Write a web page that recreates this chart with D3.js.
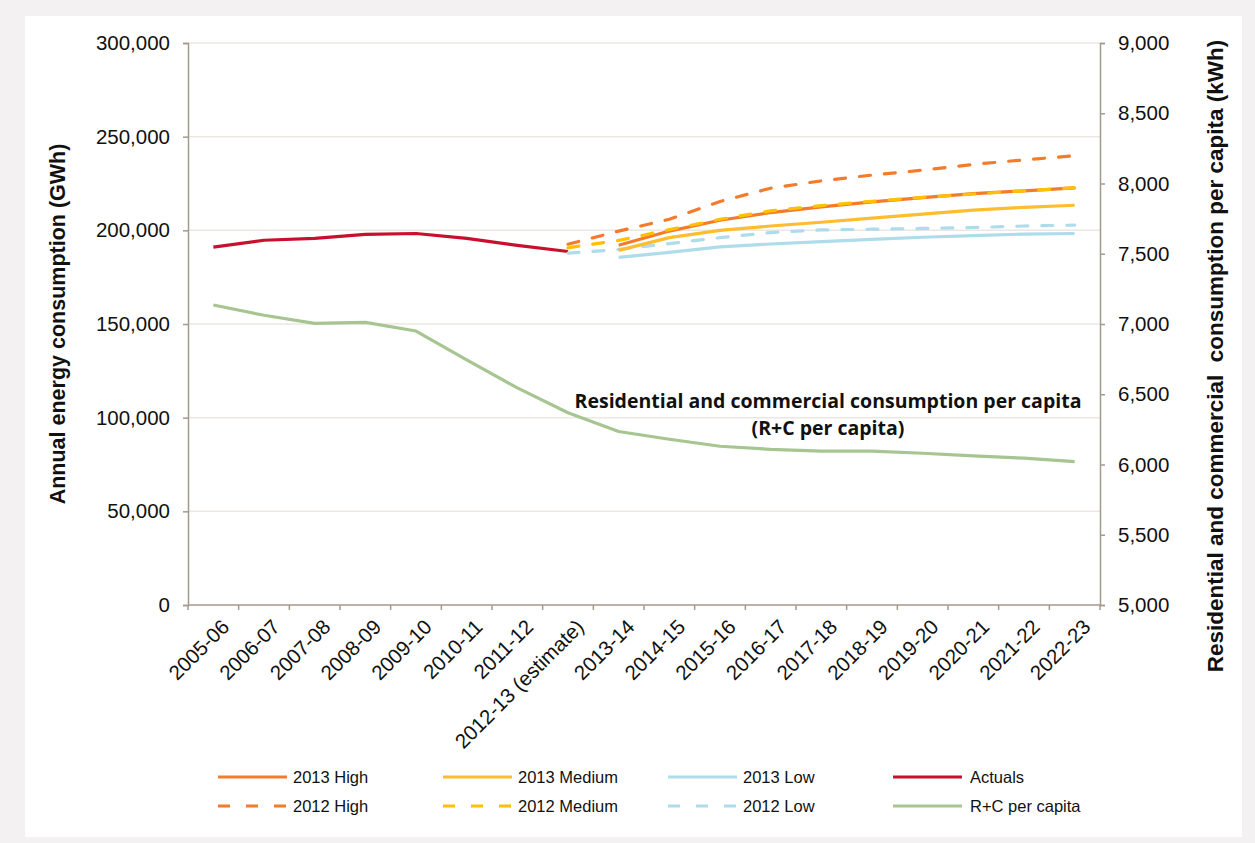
<!DOCTYPE html>
<html>
<head>
<meta charset="utf-8">
<script src="https://cdn.jsdelivr.net/npm/d3@7"></script>
<style>
  html, body { margin: 0; padding: 0; background: #f3f1f1; }
  svg { display: block; }
</style>
</head>
<body>
<svg id="chart" width="1255" height="843"></svg>
<script>
// Financial years on the category axis
const categories = ["2005-06","2006-07","2007-08","2008-09","2009-10","2010-11","2011-12",
  "2012-13 (estimate)","2013-14","2014-15","2015-16","2016-17","2017-18","2018-19",
  "2019-20","2020-21","2021-22","2022-23"];

// Annual energy consumption (GWh)
const actuals = [191000, 194700, 195700, 197800, 198300, 195700, 192000, 188700];
const high2013 = [null,null,null,null,null,null,null,null,
  192000, 199600, 205400, 209500, 212500, 215200, 217500, 219600, 221100, 222700];
const medium2013 = [null,null,null,null,null,null,null,null,
  189300, 196100, 200000, 202300, 204300, 206500, 208700, 210800, 212300, 213400];
const low2013 = [null,null,null,null,null,null,null,null,
  185600, 188200, 191200, 192700, 194000, 195200, 196300, 197200, 198000, 198300];
const high2012 = [null,null,null,null,null,null,null,
  192600, 199600, 205900, 215400, 222500, 226400, 229500, 232100, 235200, 237600, 239800];
const medium2012 = [null,null,null,null,null,null,null,
  190700, 194600, 200400, 205900, 210400, 213200, 215500, 217600, 219400, 221100, 222700];
const low2012 = [null,null,null,null,null,null,null,
  187800, 189800, 192900, 196100, 198800, 200200, 200600, 201000, 201500, 202300, 202800];

// Residential and commercial consumption per capita (kWh)
const perCapita = [7135, 7062, 7005, 7012, 6950, 6745, 6545, 6368, 6235, 6180, 6130,
  6108, 6095, 6095, 6080, 6062, 6045, 6020];

const leftTicks = [0, 50000, 100000, 150000, 200000, 250000, 300000];
const rightTicks = [5000, 5500, 6000, 6500, 7000, 7500, 8000, 8500, 9000];

const series = [
  { name: "2013 High", values: high2013, color: "#f47b2a", dashed: false, axis: "left" },
  { name: "2013 Medium", values: medium2013, color: "#fdbd2e", dashed: false, axis: "left" },
  { name: "2013 Low", values: low2013, color: "#aedceb", dashed: false, axis: "left" },
  { name: "Actuals", values: actuals, color: "#c8102e", dashed: false, axis: "left" },
  { name: "2012 High", values: high2012, color: "#f47b2a", dashed: true, axis: "left" },
  { name: "2012 Medium", values: medium2012, color: "#ffc000", dashed: true, axis: "left" },
  { name: "2012 Low", values: low2012, color: "#aedceb", dashed: true, axis: "left" },
  { name: "R+C per capita", values: perCapita, color: "#a6c590", dashed: false, axis: "right" }
];

const svg = d3.select("#chart");

// white panel
svg.append("rect").attr("x", 25).attr("y", 16).attr("width", 1217).attr("height", 821)
  .attr("fill", "#ffffff");

const m = { left: 188, right: 1100, top: 43, bottom: 605 };
const axisColor = "#a49a8c";
const font = "'Liberation Sans', Arial, sans-serif";
const narrow = "'Liberation Sans Narrow', 'Liberation Sans', Arial, sans-serif";

const x = d3.scaleBand().domain(categories).range([m.left, m.right]).padding(0);
const yL = d3.scaleLinear().domain([0, 300000]).range([m.bottom, m.top]);
const yR = d3.scaleLinear().domain([5000, 9000]).range([m.bottom, m.top]);

// gridlines
svg.append("g").selectAll("line").data(leftTicks.filter(d => d > 0)).join("line")
  .attr("x1", m.left).attr("x2", m.right)
  .attr("y1", d => yL(d)).attr("y2", d => yL(d))
  .attr("stroke", "#ebe7e3").attr("stroke-width", 1.5);

const fmt = d3.format(",");

// left axis
const gL = svg.append("g").attr("transform", `translate(${m.left},0)`)
  .call(d3.axisLeft(yL).tickValues(leftTicks).tickFormat(fmt).tickSize(5).tickPadding(13));
gL.select(".domain").attr("stroke", axisColor).attr("stroke-width", 1.5);
gL.selectAll(".tick line").attr("stroke", axisColor).attr("stroke-width", 1.5);
gL.selectAll(".tick text").attr("font-family", font).attr("font-size", 20.5).attr("fill", "#111");

// right axis
const gR = svg.append("g").attr("transform", `translate(${m.right},0)`)
  .call(d3.axisRight(yR).tickValues(rightTicks).tickFormat(fmt).tickSize(5).tickPadding(13));
gR.select(".domain").attr("stroke", axisColor).attr("stroke-width", 1.5);
gR.selectAll(".tick line").attr("stroke", axisColor).attr("stroke-width", 1.5);
gR.selectAll(".tick text").attr("font-family", font).attr("font-size", 20.5).attr("fill", "#111");

// category axis: ticks on band boundaries
const gX = svg.append("g").attr("transform", `translate(0,${m.bottom})`);
gX.append("line").attr("x1", m.left).attr("x2", m.right).attr("y1", 0).attr("y2", 0)
  .attr("stroke", axisColor).attr("stroke-width", 1.5);
const boundaries = categories.map(c => x(c)).concat([m.right]);
gX.selectAll("line.tk").data(boundaries).join("line").attr("class", "tk")
  .attr("x1", d => d).attr("x2", d => d).attr("y1", 0).attr("y2", 5)
  .attr("stroke", axisColor).attr("stroke-width", 1.5);
gX.selectAll("text").data(categories).join("text")
  .attr("transform", d => `translate(${x(d) + x.bandwidth() / 2 + 7},${13}) rotate(-45)`)
  .attr("text-anchor", "end").attr("dy", "0.7em")
  .attr("font-family", font).attr("font-size", 20.5).attr("fill", "#111")
  .text(d => d);

// axis titles
svg.append("text")
  .attr("transform", `translate(65,${324}) rotate(-90)`)
  .attr("text-anchor", "middle")
  .attr("font-family", font).attr("font-weight", "bold").attr("font-size", 21.5).attr("fill", "#111")
  .text("Annual energy consumption (GWh)");
svg.append("text")
  .attr("transform", `translate(1223,${356}) rotate(-90)`)
  .attr("text-anchor", "middle")
  .attr("font-family", narrow)
  .attr("font-weight", "bold").attr("font-size", 22.5).attr("fill", "#111")
  .style("white-space", "pre")
  .text("Residential and commercial  consumption per capita (kWh)");

// lines
const cx = c => x(c) + x.bandwidth() / 2;
const drawOrder = [7, 3, 6, 2, 1, 0, 5, 4];
drawOrder.forEach(i => {
  const s = series[i];
  const yS = s.axis === "left" ? yL : yR;
  const line = d3.line()
    .defined(d => d.v !== null)
    .x(d => cx(d.c)).y(d => yS(d.v));
  const data = categories.map((c, k) => ({ c, v: s.values[k] }));
  svg.append("path").datum(data)
    .attr("d", line)
    .attr("fill", "none")
    .attr("stroke", s.color)
    .attr("stroke-width", 3.2)
    .attr("stroke-linejoin", "round")
    .attr("stroke-linecap", s.dashed ? "round" : "butt")
    .attr("stroke-dasharray", s.dashed ? "11,14" : null);
});

// annotation
const ann = svg.append("text").attr("text-anchor", "middle")
  .attr("font-family", "'Open Sans', sans-serif").attr("font-weight", "bold")
  .attr("font-size", 19.5).attr("fill", "#111");
ann.append("tspan").attr("x", 828).attr("y", 408).text("Residential and commercial consumption per capita");
ann.append("tspan").attr("x", 828).attr("y", 435).text("(R+C per capita)");

// legend
const legendCols = [218, 443, 668, 893];
const legendRows = [777, 806];
const lg = svg.append("g");
series.forEach((s, i) => {
  const col = legendCols[i % 4];
  const row = legendRows[Math.floor(i / 4)];
  lg.append("line")
    .attr("x1", col).attr("x2", col + 69).attr("y1", row).attr("y2", row)
    .attr("stroke", s.color).attr("stroke-width", 3.2)
    .attr("stroke-dasharray", s.dashed ? "12,16" : null);
  lg.append("text")
    .attr("x", col + (i % 4 === 3 ? 77 : 75)).attr("y", row).attr("dy", "0.35em")
    .attr("font-family", narrow)
    .attr("font-size", 16.5).attr("fill", "#111")
    .text(s.name);
});
</script>
</body>
</html>
